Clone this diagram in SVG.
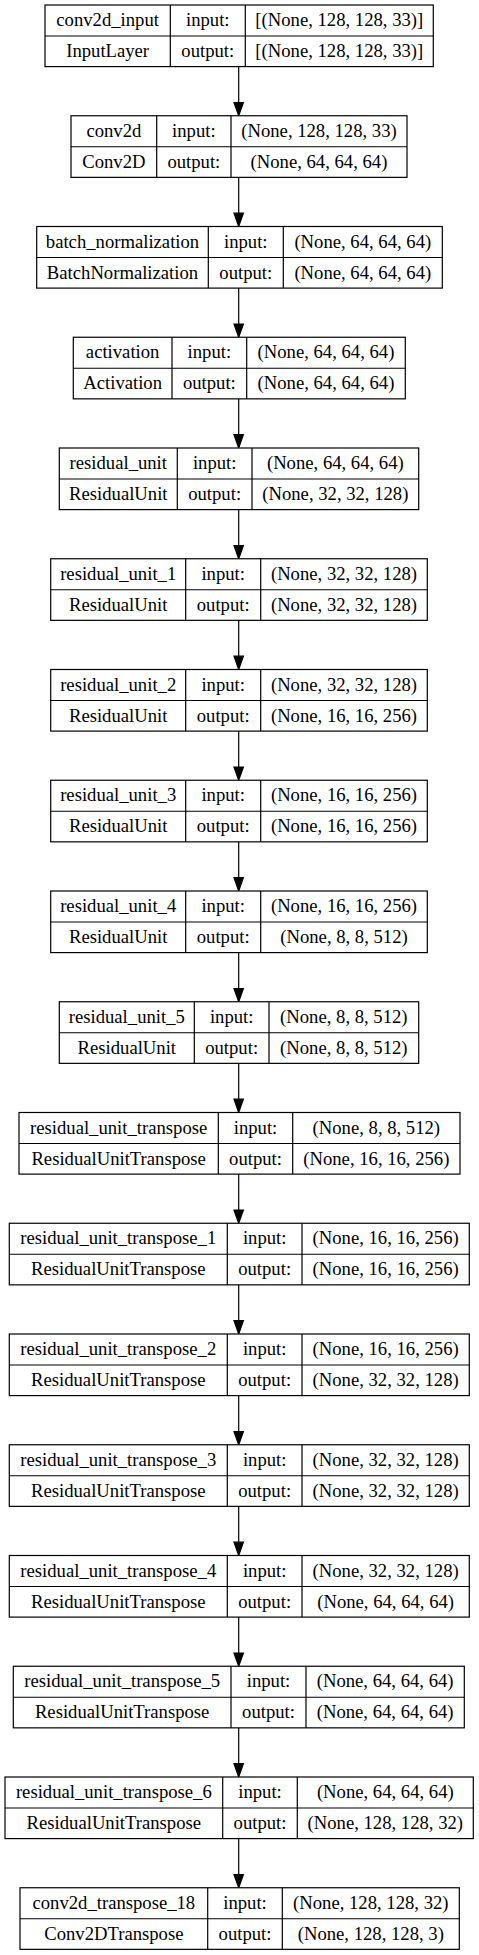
<svg xmlns="http://www.w3.org/2000/svg" width="479" height="1955" viewBox="0 0 479 1955">
<style>
rect{fill:#fff;stroke:#000;stroke-width:1.2}
.g{fill:none;stroke:#000;stroke-width:1.2}
text{font-family:"Liberation Serif","Times New Roman",serif;font-size:18.67px;fill:#000;text-anchor:middle}
.e{stroke:#000;stroke-width:1.2;fill:none}
.h{fill:#000;stroke:#000;stroke-width:1.2}
</style>
<rect x="0" y="0" width="479" height="1955" style="stroke:none"/>
<g id="connectors">
<path class="e" d="M238.7 66.6V102.5M238.7 177.4V213.2M238.7 288.1V324M238.7 398.9V434.7M238.7 509.6V545.5M238.7 620.4V656.2M238.7 731.1V767M238.7 841.9V877.7M238.7 952.6V988.5M238.7 1063.4V1099.2M238.7 1174.1V1210M238.7 1284.9V1320.7M238.7 1395.6V1431.5M238.7 1506.4V1542.2M238.7 1617.1V1653M238.7 1727.9V1763.7M238.7 1838.6V1874.5"/>
<polygon class="h" points="238.7,115.75 234,102.5 243.4,102.5"/>
<polygon class="h" points="238.7,226.5 234,213.2 243.4,213.2"/>
<polygon class="h" points="238.7,337.25 234,324 243.4,324"/>
<polygon class="h" points="238.7,448 234,434.7 243.4,434.7"/>
<polygon class="h" points="238.7,558.75 234,545.5 243.4,545.5"/>
<polygon class="h" points="238.7,669.5 234,656.2 243.4,656.2"/>
<polygon class="h" points="238.7,780.25 234,767 243.4,767"/>
<polygon class="h" points="238.7,891 234,877.7 243.4,877.7"/>
<polygon class="h" points="238.7,1001.75 234,988.5 243.4,988.5"/>
<polygon class="h" points="238.7,1112.5 234,1099.2 243.4,1099.2"/>
<polygon class="h" points="238.7,1223.25 234,1210 243.4,1210"/>
<polygon class="h" points="238.7,1334 234,1320.7 243.4,1320.7"/>
<polygon class="h" points="238.7,1444.75 234,1431.5 243.4,1431.5"/>
<polygon class="h" points="238.7,1555.5 234,1542.2 243.4,1542.2"/>
<polygon class="h" points="238.7,1666.25 234,1653 243.4,1653"/>
<polygon class="h" points="238.7,1777 234,1763.7 243.4,1763.7"/>
<polygon class="h" points="238.7,1887.75 234,1874.5 243.4,1874.5"/>
</g>
<g id="conv2d_input">
<rect x="45" y="5" width="388.3" height="61.6"/>
<path class="g" d="M45 36H433.3M170.3 5V66.6M245.3 5V66.6"/>
<text x="107.65" y="26">conv2d_input</text><text x="207.8" y="26">input:</text><text x="339.3" y="26">[(None, 128, 128, 33)]</text>
<text x="107.65" y="57">InputLayer</text><text x="207.8" y="57">output:</text><text x="339.3" y="57">[(None, 128, 128, 33)]</text>
</g>
<g id="conv2d">
<rect x="71" y="115.75" width="336" height="61.6"/>
<path class="g" d="M71 146.75H407M156.7 115.75V177.35M231 115.75V177.35"/>
<text x="113.85" y="136.75">conv2d</text><text x="193.85" y="136.75">input:</text><text x="319" y="136.75">(None, 128, 128, 33)</text>
<text x="113.85" y="167.75">Conv2D</text><text x="193.85" y="167.75">output:</text><text x="319" y="167.75">(None, 64, 64, 64)</text>
</g>
<g id="batch_normalization">
<rect x="36.7" y="226.5" width="405.6" height="61.6"/>
<path class="g" d="M36.7 257.5H442.3M208.3 226.5V288.1M283.3 226.5V288.1"/>
<text x="122.5" y="247.5">batch_normalization</text><text x="245.8" y="247.5">input:</text><text x="362.8" y="247.5">(None, 64, 64, 64)</text>
<text x="122.5" y="278.5">BatchNormalization</text><text x="245.8" y="278.5">output:</text><text x="362.8" y="278.5">(None, 64, 64, 64)</text>
</g>
<g id="activation">
<rect x="73.3" y="337.25" width="332" height="61.6"/>
<path class="g" d="M73.3 368.25H405.3M172 337.25V398.85M246.7 337.25V398.85"/>
<text x="122.65" y="358.25">activation</text><text x="209.35" y="358.25">input:</text><text x="326" y="358.25">(None, 64, 64, 64)</text>
<text x="122.65" y="389.25">Activation</text><text x="209.35" y="389.25">output:</text><text x="326" y="389.25">(None, 64, 64, 64)</text>
</g>
<g id="residual_unit">
<rect x="59.3" y="448" width="359.4" height="61.6"/>
<path class="g" d="M59.3 479H418.7M177.3 448V509.6M252 448V509.6"/>
<text x="118.3" y="469">residual_unit</text><text x="214.65" y="469">input:</text><text x="335.35" y="469">(None, 64, 64, 64)</text>
<text x="118.3" y="500">ResidualUnit</text><text x="214.65" y="500">output:</text><text x="335.35" y="500">(None, 32, 32, 128)</text>
</g>
<g id="residual_unit_1">
<rect x="50.7" y="558.75" width="376.6" height="61.6"/>
<path class="g" d="M50.7 589.75H427.3M185.7 558.75V620.35M260.7 558.75V620.35"/>
<text x="118.2" y="579.75">residual_unit_1</text><text x="223.2" y="579.75">input:</text><text x="344" y="579.75">(None, 32, 32, 128)</text>
<text x="118.2" y="610.75">ResidualUnit</text><text x="223.2" y="610.75">output:</text><text x="344" y="610.75">(None, 32, 32, 128)</text>
</g>
<g id="residual_unit_2">
<rect x="50.7" y="669.5" width="376.6" height="61.6"/>
<path class="g" d="M50.7 700.5H427.3M185.7 669.5V731.1M260.7 669.5V731.1"/>
<text x="118.2" y="690.5">residual_unit_2</text><text x="223.2" y="690.5">input:</text><text x="344" y="690.5">(None, 32, 32, 128)</text>
<text x="118.2" y="721.5">ResidualUnit</text><text x="223.2" y="721.5">output:</text><text x="344" y="721.5">(None, 16, 16, 256)</text>
</g>
<g id="residual_unit_3">
<rect x="50.7" y="780.25" width="376.6" height="61.6"/>
<path class="g" d="M50.7 811.25H427.3M185.7 780.25V841.85M260.7 780.25V841.85"/>
<text x="118.2" y="801.25">residual_unit_3</text><text x="223.2" y="801.25">input:</text><text x="344" y="801.25">(None, 16, 16, 256)</text>
<text x="118.2" y="832.25">ResidualUnit</text><text x="223.2" y="832.25">output:</text><text x="344" y="832.25">(None, 16, 16, 256)</text>
</g>
<g id="residual_unit_4">
<rect x="50.7" y="891" width="376.6" height="61.6"/>
<path class="g" d="M50.7 922H427.3M185.7 891V952.6M260.7 891V952.6"/>
<text x="118.2" y="912">residual_unit_4</text><text x="223.2" y="912">input:</text><text x="344" y="912">(None, 16, 16, 256)</text>
<text x="118.2" y="943">ResidualUnit</text><text x="223.2" y="943">output:</text><text x="344" y="943">(None, 8, 8, 512)</text>
</g>
<g id="residual_unit_5">
<rect x="59.3" y="1001.75" width="359.4" height="61.6"/>
<path class="g" d="M59.3 1032.75H418.7M194.3 1001.75V1063.35M269 1001.75V1063.35"/>
<text x="126.8" y="1022.75">residual_unit_5</text><text x="231.65" y="1022.75">input:</text><text x="343.85" y="1022.75">(None, 8, 8, 512)</text>
<text x="126.8" y="1053.75">ResidualUnit</text><text x="231.65" y="1053.75">output:</text><text x="343.85" y="1053.75">(None, 8, 8, 512)</text>
</g>
<g id="residual_unit_transpose">
<rect x="19" y="1112.5" width="441" height="61.6"/>
<path class="g" d="M19 1143.5H460M218.3 1112.5V1174.1M292.7 1112.5V1174.1"/>
<text x="118.65" y="1133.5">residual_unit_transpose</text><text x="255.5" y="1133.5">input:</text><text x="376.35" y="1133.5">(None, 8, 8, 512)</text>
<text x="118.65" y="1164.5">ResidualUnitTranspose</text><text x="255.5" y="1164.5">output:</text><text x="376.35" y="1164.5">(None, 16, 16, 256)</text>
</g>
<g id="residual_unit_transpose_1">
<rect x="9.3" y="1223.25" width="460" height="61.6"/>
<path class="g" d="M9.3 1254.25H469.3M227.3 1223.25V1284.85M302 1223.25V1284.85"/>
<text x="118.3" y="1244.25">residual_unit_transpose_1</text><text x="264.65" y="1244.25">input:</text><text x="385.65" y="1244.25">(None, 16, 16, 256)</text>
<text x="118.3" y="1275.25">ResidualUnitTranspose</text><text x="264.65" y="1275.25">output:</text><text x="385.65" y="1275.25">(None, 16, 16, 256)</text>
</g>
<g id="residual_unit_transpose_2">
<rect x="9.3" y="1334" width="460" height="61.6"/>
<path class="g" d="M9.3 1365H469.3M227.3 1334V1395.6M302 1334V1395.6"/>
<text x="118.3" y="1355">residual_unit_transpose_2</text><text x="264.65" y="1355">input:</text><text x="385.65" y="1355">(None, 16, 16, 256)</text>
<text x="118.3" y="1386">ResidualUnitTranspose</text><text x="264.65" y="1386">output:</text><text x="385.65" y="1386">(None, 32, 32, 128)</text>
</g>
<g id="residual_unit_transpose_3">
<rect x="9.3" y="1444.75" width="460" height="61.6"/>
<path class="g" d="M9.3 1475.75H469.3M227.3 1444.75V1506.35M302 1444.75V1506.35"/>
<text x="118.3" y="1465.75">residual_unit_transpose_3</text><text x="264.65" y="1465.75">input:</text><text x="385.65" y="1465.75">(None, 32, 32, 128)</text>
<text x="118.3" y="1496.75">ResidualUnitTranspose</text><text x="264.65" y="1496.75">output:</text><text x="385.65" y="1496.75">(None, 32, 32, 128)</text>
</g>
<g id="residual_unit_transpose_4">
<rect x="9.3" y="1555.5" width="460" height="61.6"/>
<path class="g" d="M9.3 1586.5H469.3M227.3 1555.5V1617.1M302 1555.5V1617.1"/>
<text x="118.3" y="1576.5">residual_unit_transpose_4</text><text x="264.65" y="1576.5">input:</text><text x="385.65" y="1576.5">(None, 32, 32, 128)</text>
<text x="118.3" y="1607.5">ResidualUnitTranspose</text><text x="264.65" y="1607.5">output:</text><text x="385.65" y="1607.5">(None, 64, 64, 64)</text>
</g>
<g id="residual_unit_transpose_5">
<rect x="13.3" y="1666.25" width="451" height="61.6"/>
<path class="g" d="M13.3 1697.25H464.3M231 1666.25V1727.85M306 1666.25V1727.85"/>
<text x="122.15" y="1687.25">residual_unit_transpose_5</text><text x="268.5" y="1687.25">input:</text><text x="385.15" y="1687.25">(None, 64, 64, 64)</text>
<text x="122.15" y="1718.25">ResidualUnitTranspose</text><text x="268.5" y="1718.25">output:</text><text x="385.15" y="1718.25">(None, 64, 64, 64)</text>
</g>
<g id="residual_unit_transpose_6">
<rect x="5" y="1777" width="468.3" height="61.6"/>
<path class="g" d="M5 1808H473.3M222.7 1777V1838.6M297.3 1777V1838.6"/>
<text x="113.85" y="1798">residual_unit_transpose_6</text><text x="260" y="1798">input:</text><text x="385.3" y="1798">(None, 64, 64, 64)</text>
<text x="113.85" y="1829">ResidualUnitTranspose</text><text x="260" y="1829">output:</text><text x="385.3" y="1829">(None, 128, 128, 32)</text>
</g>
<g id="conv2d_transpose_18">
<rect x="20" y="1887.75" width="439.3" height="61.6"/>
<path class="g" d="M20 1918.75H459.3M207.7 1887.75V1949.35M282.3 1887.75V1949.35"/>
<text x="113.85" y="1908.75">conv2d_transpose_18</text><text x="245" y="1908.75">input:</text><text x="370.8" y="1908.75">(None, 128, 128, 32)</text>
<text x="113.85" y="1939.75">Conv2DTranspose</text><text x="245" y="1939.75">output:</text><text x="370.8" y="1939.75">(None, 128, 128, 3)</text>
</g>
</svg>
